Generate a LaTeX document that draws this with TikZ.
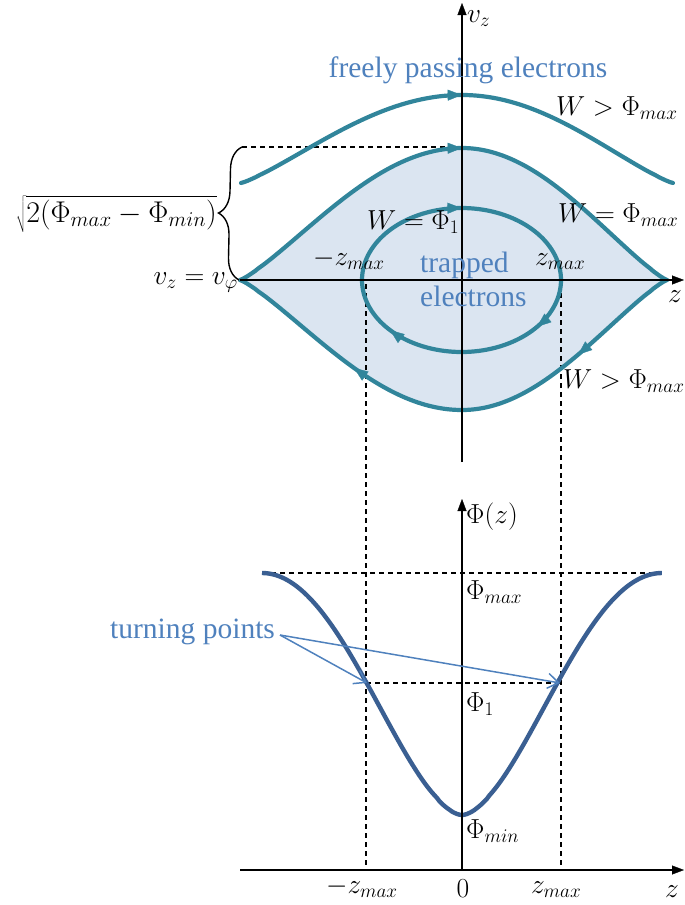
\RequirePackage{fix-cm}
\documentclass[tikz,border=0pt]{standalone}
\usepackage{fontspec}
\newfontfamily\tnr{Liberation Serif}
\usetikzlibrary{arrows.meta,decorations.markings,decorations.pathreplacing}
\definecolor{tealc}{RGB}{49,133,155}
\definecolor{fillc}{RGB}{219,229,241}
\definecolor{phic}{RGB}{58,95,146}
\definecolor{lblue}{RGB}{79,129,189}
\tikzset{
  tri/.tip={Triangle[length=14pt,width=11pt,line width=0.3pt]},
  axtip/.tip={Triangle[length=12pt,width=9pt,line width=0.3pt]},
}
\begin{document}
\begin{tikzpicture}[x=1pt,y=-1pt,
  axisline/.style={line width=1.9pt,-axtip},
  curve/.style={line width=4.2pt,tealc,line cap=round},
  dline/.style={line width=1.2pt,dash pattern=on 5pt off 4pt},
  mlab/.style={font=\fontsize{27.5}{32}\selectfont,inner sep=0pt},
  blab/.style={font=\tnr\fontsize{29.5}{34}\selectfont,text=lblue,inner sep=0pt},
  marks/.style={postaction={decorate},decoration={markings,#1}},
]
\useasboundingbox (0,0) rectangle (685,905);
% named points
\coordinate (vBot) at (462,462);
\coordinate (vTop) at (462,3);
\coordinate (zL) at (240,280);
\coordinate (zR) at (684,280);
\coordinate (brB) at (239,280);
\coordinate (brT) at (242,147);
\coordinate (sepT) at (462,147);
\coordinate (dL1) at (366,284);
\coordinate (dL2) at (366,870);
\coordinate (dR1) at (561,284);
\coordinate (dR2) at (561,870);
\coordinate (pmL) at (262,573);
\coordinate (pmR) at (662,573);
\coordinate (p1L) at (366,683);
\coordinate (p1R) at (561,683);
\coordinate (PBot) at (462,870);
\coordinate (PTop) at (462,499);
\coordinate (zL2) at (240,870);
\coordinate (zR2) at (684,870);
\coordinate (tpS) at (280,635);
\coordinate (tpA) at (367,683);
\coordinate (tpB) at (560,683);

% trapped region fill
\fill[fillc] plot[domain=-1:1,samples=121] ({462+((\x<0)?222:205)*\x},{280-132*pow(abs(cos(90*\x))+0.00001,1.2)})
  -- plot[domain=1:-1,samples=121] ({462+((\x<0)?222:205)*\x},{280+130*pow(abs(cos(90*\x))+0.00001,1.2)}) -- cycle;

% dashed guides
\draw[dline] (brT) -- (sepT);
\draw[dline] (dL1) -- (dL2);
\draw[dline] (dR1) -- (dR2);
\draw[dline] (pmL) -- (pmR);
\draw[dline] (p1L) -- (p1R);

% freely passing trajectory
\draw[curve,marks={mark=at position 0.999 with {\arrow{tri}}}] plot[domain=-1:0,samples=61] ({462+221*\x},{183-88*pow(abs(cos(90*\x))+0.00001,1.2)});
\draw[curve] plot[domain=0:1,samples=61] ({462+211*\x},{183-88*pow(abs(cos(90*\x))+0.00001,1.2)});
% separatrix
\draw[curve,marks={mark=at position 0.999 with {\arrow{tri}}}] plot[domain=-1:0,samples=61] ({462+222*\x},{280-132*pow(abs(cos(90*\x))+0.00001,1.2)});
\draw[curve] plot[domain=0:1,samples=61] ({462+205*\x},{280-132*pow(abs(cos(90*\x))+0.00001,1.2)});
\draw[curve,marks={mark=at position 0.47 with {\arrow{tri}}}] plot[domain=1:0,samples=61] ({462+205*\x},{280+130*pow(abs(cos(90*\x))+0.00001,1.2)});
\draw[curve,marks={mark=at position 0.45 with {\arrow{tri}}}] plot[domain=0:-1,samples=61] ({462+222*\x},{280+130*pow(abs(cos(90*\x))+0.00001,1.2)});
% trapped orbit
\draw[curve,marks={mark=at position 0.25 with {\arrow{tri}},mark=at position 0.6 with {\arrow{tri}},mark=at position 0.89 with {\arrow{tri}}}]
  plot[domain=0:360,samples=145] ({461.5-99.5*cos(\x)},{280-72*sin(\x)}) -- cycle;

% potential
\draw[phic,line width=4.4pt] plot[domain=-1:1,samples=161] ({462+200*\x},{815-121*(1-cos(180*pow(abs(\x)+0.00001,0.86)))});

% axes
\draw[axisline] (vBot) -- (vTop);
\draw[axisline] (zL) -- (zR);
\draw[axisline] (PBot) -- (PTop);
\draw[axisline] (zL2) -- (zR2);

% brace
\draw[line width=1.4pt,decorate,decoration={brace,amplitude=22pt}] (brB) -- (brT);

% turning point arrows
\draw[lblue,line width=1.5pt,-{Straight Barb[length=11pt,width=15pt]}] (tpS) -- (tpA);
\draw[lblue,line width=1.5pt,-{Straight Barb[length=11pt,width=15pt]}] (tpS) -- (tpB);

% labels
\node[mlab,anchor=base west] (lvz) at (467,22) {$v_z$};
\node[blab,anchor=base] (lfree) at (468,77) {freely passing electrons};
\node[mlab,anchor=base west] (lWgt1) at (556,115) {$W>\Phi_{max}$};
\node[mlab,anchor=base west] (lWeq) at (558,222) {$W=\Phi_{max}$};
\node[mlab,anchor=base west] (lW1) at (367,229) {$W=\Phi_1$};
\node[mlab,anchor=base west] (lmz1) at (313,265) {$-z_{max}$};
\node[mlab,anchor=base west] (lz1) at (535,265) {$z_{max}$};
\node[blab,anchor=base west] (ltrap1) at (420,272) {trapped};
\node[blab,anchor=base west] (ltrap2) at (420,306) {electrons};
\node[mlab,anchor=base east] (lvphi) at (238,284) {$v_z=v_\varphi$};
\node[mlab,anchor=base west] (lzax1) at (668,302) {$z$};
\node[mlab,anchor=base east,font=\fontsize{30}{34}\selectfont] (lsqrt) at (217,222) {$\sqrt{2(\Phi_{max}-\Phi_{min})}$};
\node[mlab,anchor=base west] (lWgt2) at (563,388) {$W>\Phi_{max}$};
\node[mlab,anchor=base west] (lPhiz) at (466,523) {$\Phi(z)$};
\node[mlab,anchor=base west] (lPmax) at (466,599) {$\Phi_{max}$};
\node[blab,anchor=base west] (ltp) at (110,638) {turning points};
\node[mlab,anchor=base west] (lP1) at (466,711) {$\Phi_1$};
\node[mlab,anchor=base west] (lPmin) at (466,838) {$\Phi_{min}$};
\node[mlab,anchor=base west] (lmz2) at (326,893) {$-z_{max}$};
\node[mlab,anchor=base] (l0) at (463,897) {$0$};
\node[mlab,anchor=base west] (lz2) at (531,893) {$z_{max}$};
\node[mlab,anchor=base west] (lzax2) at (665,897) {$z$};
\end{tikzpicture}
\end{document}
